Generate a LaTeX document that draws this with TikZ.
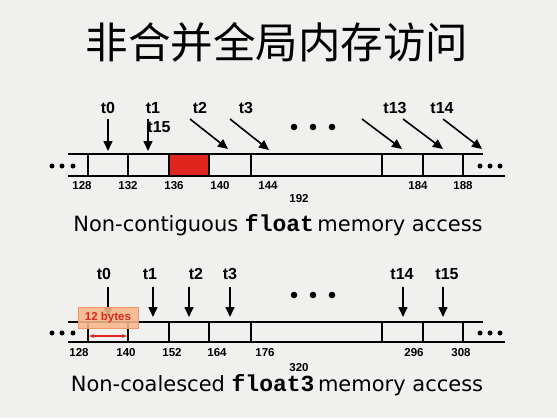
\documentclass[tikz,border=0pt]{standalone}
\usepackage{fontspec}
\setmainfont{Liberation Sans}
\newfontfamily\cjk{Noto Sans CJK SC}
\newfontfamily\capfont{DejaVu Sans}
\newfontfamily\codefont{Liberation Mono}
\usetikzlibrary{arrows.meta,positioning}

\definecolor{paper}{RGB}{240,240,238}
\definecolor{cellred}{RGB}{222,38,30}
\definecolor{boxfill}{RGB}{246,184,138}
\definecolor{boxline}{RGB}{240,150,100}

\begin{document}
\begin{tikzpicture}[x=1pt,y=-1pt,
    strip/.style={line width=1.6pt},
    thread/.style={font=\bfseries\fontsize{16}{16}\selectfont},
    addr/.style={font=\bfseries\fontsize{11.5}{12}\selectfont},
    ptr/.style={line width=1.6pt,-{Triangle[length=10pt,width=9pt]}},
    caption/.style={font=\capfont\fontsize{21}{23}\selectfont},
    code/.style={font=\codefont\bfseries\fontsize{23}{23}\selectfont}]

    % Background
    \fill[paper] (0,0) rectangle (557,418);
    \useasboundingbox (0,0) rectangle (557,418);

    % Title
    \node (title) at (277,42) {\cjk\fontsize{42.5}{43}\selectfont 非合并全局内存访问};

    % Upper strip
    \fill[cellred] (169,154) rectangle (209,176);
    \draw[strip] (68,154) -- (483,154);
    \draw[strip] (68,176) -- (505,176);
    \foreach \x in {88,128,169,209,251,382,423,463}
        \draw[strip] (\x,154) -- (\x,176);
    \foreach \x in {52,62,73,480,490,500}
        \fill (\x,166) circle (2.5pt);
    \foreach \x in {294,313,332}
        \fill (\x,127) circle (3.3pt);

    % Upper addresses
    \foreach \a/\x in {128/82,132/128,136/174,140/220,144/268,184/418,188/463}
        \node[addr] (ua\a) at (\x,186) {\a};
    \node[addr] (ua192) at (299,199) {192};

    % Upper threads
    \foreach \t/\x in {0/108,1/153,2/200,3/246,13/395,14/442}
        \node[thread] (ut\t) at (\x,108) {t\t};
    \node[thread] (ut15) at (159,127) {t15};
    \foreach \n/\sx/\ex/\ey in {a/108/108/151,b/148/148/151,c/190/228/149,d/230/269/150,e/362/402/149,f/403/443/149,g/443/482/149} {
        \coordinate (us\n) at (\sx,119);
        \coordinate (ue\n) at (\ex,\ey);
        \draw[ptr] (us\n) -- (ue\n);
    }

    \node[caption] (cap1) at (278,225) {Non-contiguous {\codefont\bfseries\fontsize{23}{23}\selectfont float}\,memory access};

    % Lower strip
    \draw[strip] (68,322) -- (483,322);
    \draw[strip] (68,342) -- (505,342);
    \foreach \x in {88,128,169,209,251,382,423,463}
        \draw[strip] (\x,322) -- (\x,342);
    \foreach \x in {52,62,73,480,490,500}
        \fill (\x,333) circle (2.5pt);
    \foreach \x in {294,313,332}
        \fill (\x,295) circle (3.3pt);

    % Lower addresses
    \foreach \a/\x in {128/79,140/126,152/172,164/217,176/265,296/414,308/461}
        \node[addr] (la\a) at (\x,353) {\a};
    \node[addr] (la320) at (299,368) {320};

    % Lower threads
    \foreach \t/\x in {0/104,1/150,2/196,3/230,14/402,15/447}
        \node[thread] (lt\t) at (\x,274) {t\t};
    \foreach \n/\x in {a/108,b/153,c/189,d/230,e/403,f/443} {
        \coordinate (ls\n) at (\x,287);
        \coordinate (le\n) at (\x,317);
        \draw[ptr] (ls\n) -- (le\n);
    }

    % Element size
    \node[draw=boxline,fill=boxfill,fill opacity=0.88,text opacity=1,line width=0.8pt,
          minimum width=60pt,minimum height=21pt,inner sep=0pt,
          text=cellred,font=\bfseries\fontsize{11.5}{12}\selectfont] (size) at (108,318) {12 bytes};
    \coordinate (sl) at (89,336);
    \coordinate (sr) at (127,336);
    \draw[cellred,line width=1.4pt,{Stealth[length=5pt]}-{Stealth[length=5pt]}] (sl) -- (sr);

    \node[caption] (cap2) at (277,385) {Non-coalesced {\codefont\bfseries\fontsize{23}{23}\selectfont float3}\,memory access};
\end{tikzpicture}
\end{document}
